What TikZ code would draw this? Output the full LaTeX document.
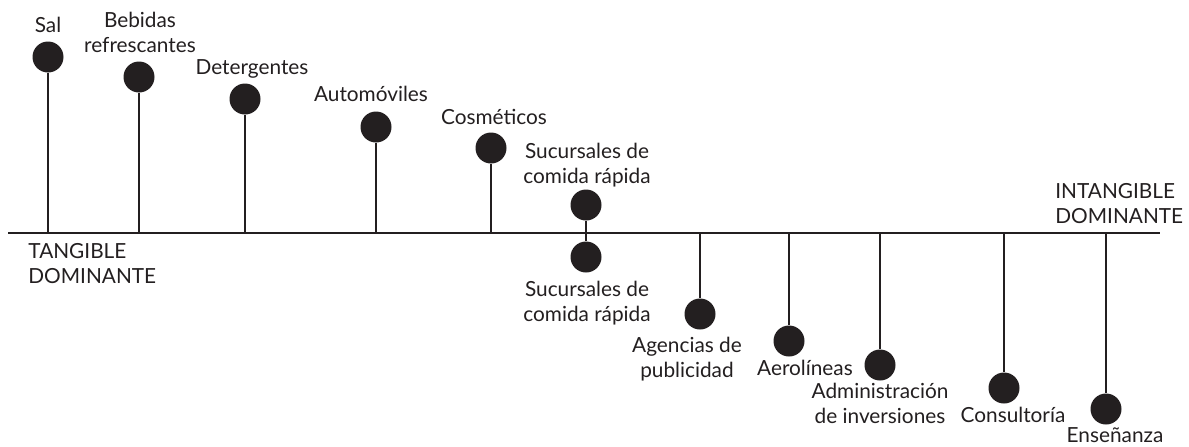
\documentclass[tikz,border=0pt]{standalone}
\usepackage{fontspec}
\setmainfont{Lato}
\definecolor{ink}{HTML}{231F20}
\begin{document}
\begin{tikzpicture}[x=0.5pt,y=-0.5pt,
  dot/.style={circle,fill=ink,inner sep=0pt,minimum size=15.5pt},
  lbl/.style={anchor=base,inner sep=0pt,align=center,text=ink,font=\fontsize{10.4}{12.5}\selectfont},
  stem/.style={draw=ink,line width=1pt}]
 \useasboundingbox (0,0) rectangle (1189,446);
 \coordinate (axisL) at (8,233);
 \coordinate (axisR) at (1160,233);
 \draw[ink,line width=1.3pt] (axisL) -- (axisR);
 \node[lbl,align=left,anchor=base west] (tang) at (28,283) {TANGIBLE\\DOMINANTE};
 \node[lbl,align=left,anchor=base west] (intang) at (1055,223) {INTANGIBLE\\DOMINANTE};
 % above the line
 \node[dot] (sal) at (48,57) {};
 \node[dot] (bebidas) at (139,77) {};
 \node[dot] (deterg) at (245,99) {};
 \node[dot] (autos) at (376,127) {};
 \node[dot] (cosmet) at (491,148) {};
 \node[dot] (sucA) at (586,205) {};
 \foreach \n in {sal,bebidas,deterg,autos,cosmet,sucA}
   \draw[stem] (\n) -- (\n |- axisL);
 \node[lbl] (salT) at (48,32) {Sal};
 \node[lbl] (bebidasT) at (140,52) {Bebidas\\refrescantes};
 \node[lbl] (detergT) at (252,74) {Detergentes};
 \node[lbl] (autosT) at (371,101) {Automóviles};
 \node[lbl] (cosmetT) at (494,124) {Cosméticos};
 \node[lbl] (sucAT) at (587,183) {Sucursales de\\comida rápida};
 % below the line
 \node[dot] (sucB) at (586,257) {};
 \node[dot] (agencias) at (700,314) {};
 \node[dot] (aero) at (789,341) {};
 \node[dot] (admin) at (880,365) {};
 \node[dot] (consult) at (1004,388) {};
 \node[dot] (ensen) at (1106,409) {};
 \foreach \n in {sucB,agencias,aero,admin,consult,ensen}
   \draw[stem] (\n) -- (\n |- axisL);
 \node[lbl] (sucBT) at (587,321) {Sucursales de\\comida rápida};
 \node[lbl] (agenciasT) at (687,377) {Agencias de\\publicidad};
 \node[lbl] (aeroT) at (805,375) {Aerolíneas};
 \node[lbl] (adminT) at (880,423) {Administración\\de inversiones};
 \node[lbl] (consultT) at (1013,422) {Consultoría};
 \node[lbl] (ensenT) at (1115,442) {Enseñanza};
\end{tikzpicture}
\end{document}
